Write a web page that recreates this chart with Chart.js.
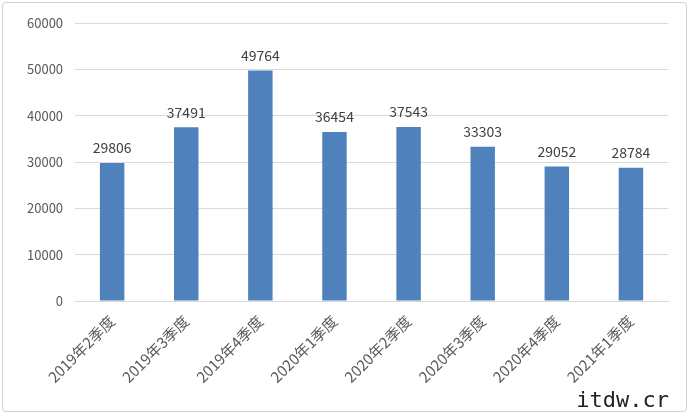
<!DOCTYPE html>
<html><head><meta charset="utf-8">
<script src="https://cdn.jsdelivr.net/npm/chart.js@4"></script>
<style>
body{margin:0;background:#fff;}
#wrap{position:absolute;left:2px;top:2px;width:685px;height:410px;border:1px solid #d0d0d0;border-radius:4px;box-sizing:border-box;}
#mark{position:absolute;right:22px;bottom:4px;font:22px "DejaVu Sans Mono",monospace;color:#222;}
</style></head><body>
<div id="wrap"><canvas id="c" width="685" height="410"></canvas></div>
<div id="mark">itdw.cr</div>
<script>
const categories = ["2019年2季度","2019年3季度","2019年4季度","2020年1季度","2020年2季度","2020年3季度","2020年4季度","2021年1季度"];
const values = [29806,37491,49764,36454,37543,33303,29052,28784];

const labelPlugin = {
  id: "vals",
  afterDatasetsDraw(chart) {
    const ctx = chart.ctx;
    ctx.save();
    ctx.font = "14px 'Noto Sans CJK SC', sans-serif";
    ctx.fillStyle = "#404040";
    ctx.textAlign = "center";
    ctx.textBaseline = "bottom";
    chart.getDatasetMeta(0).data.forEach((b, i) => {
      ctx.fillText(values[i], b.x, b.y - 8);
    });
    ctx.restore();
  }
};

new Chart(document.getElementById("c"), {
  type: "bar",
  data: {
    labels: categories,
    datasets: [{ data: values, backgroundColor: "#4f81bd", barPercentage: 0.33, categoryPercentage: 1 }]
  },
  options: {
    responsive: false,
    animation: false,
    layout: { padding: { left: 12, right: 20, top: 20, bottom: 24 } },
    plugins: { legend: { display: false }, tooltip: { enabled: false } },
    scales: {
      x: {
        grid: { display: false },
        border: { color: "#d9d9d9" },
        ticks: { maxRotation: 45, minRotation: 45, color: "#595959", font: { size: 15, family: "'Noto Sans CJK SC'" } }
      },
      y: {
        min: 0, max: 60000,
        ticks: { stepSize: 10000, color: "#595959", font: { size: 13, family: "'Noto Sans CJK SC'" }, padding: 12, callback: v => String(v) },
        grid: { color: "#d9d9d9", drawTicks: false },
        border: { display: false }
      }
    }
  },
  plugins: [labelPlugin]
});
</script>
</body></html>
